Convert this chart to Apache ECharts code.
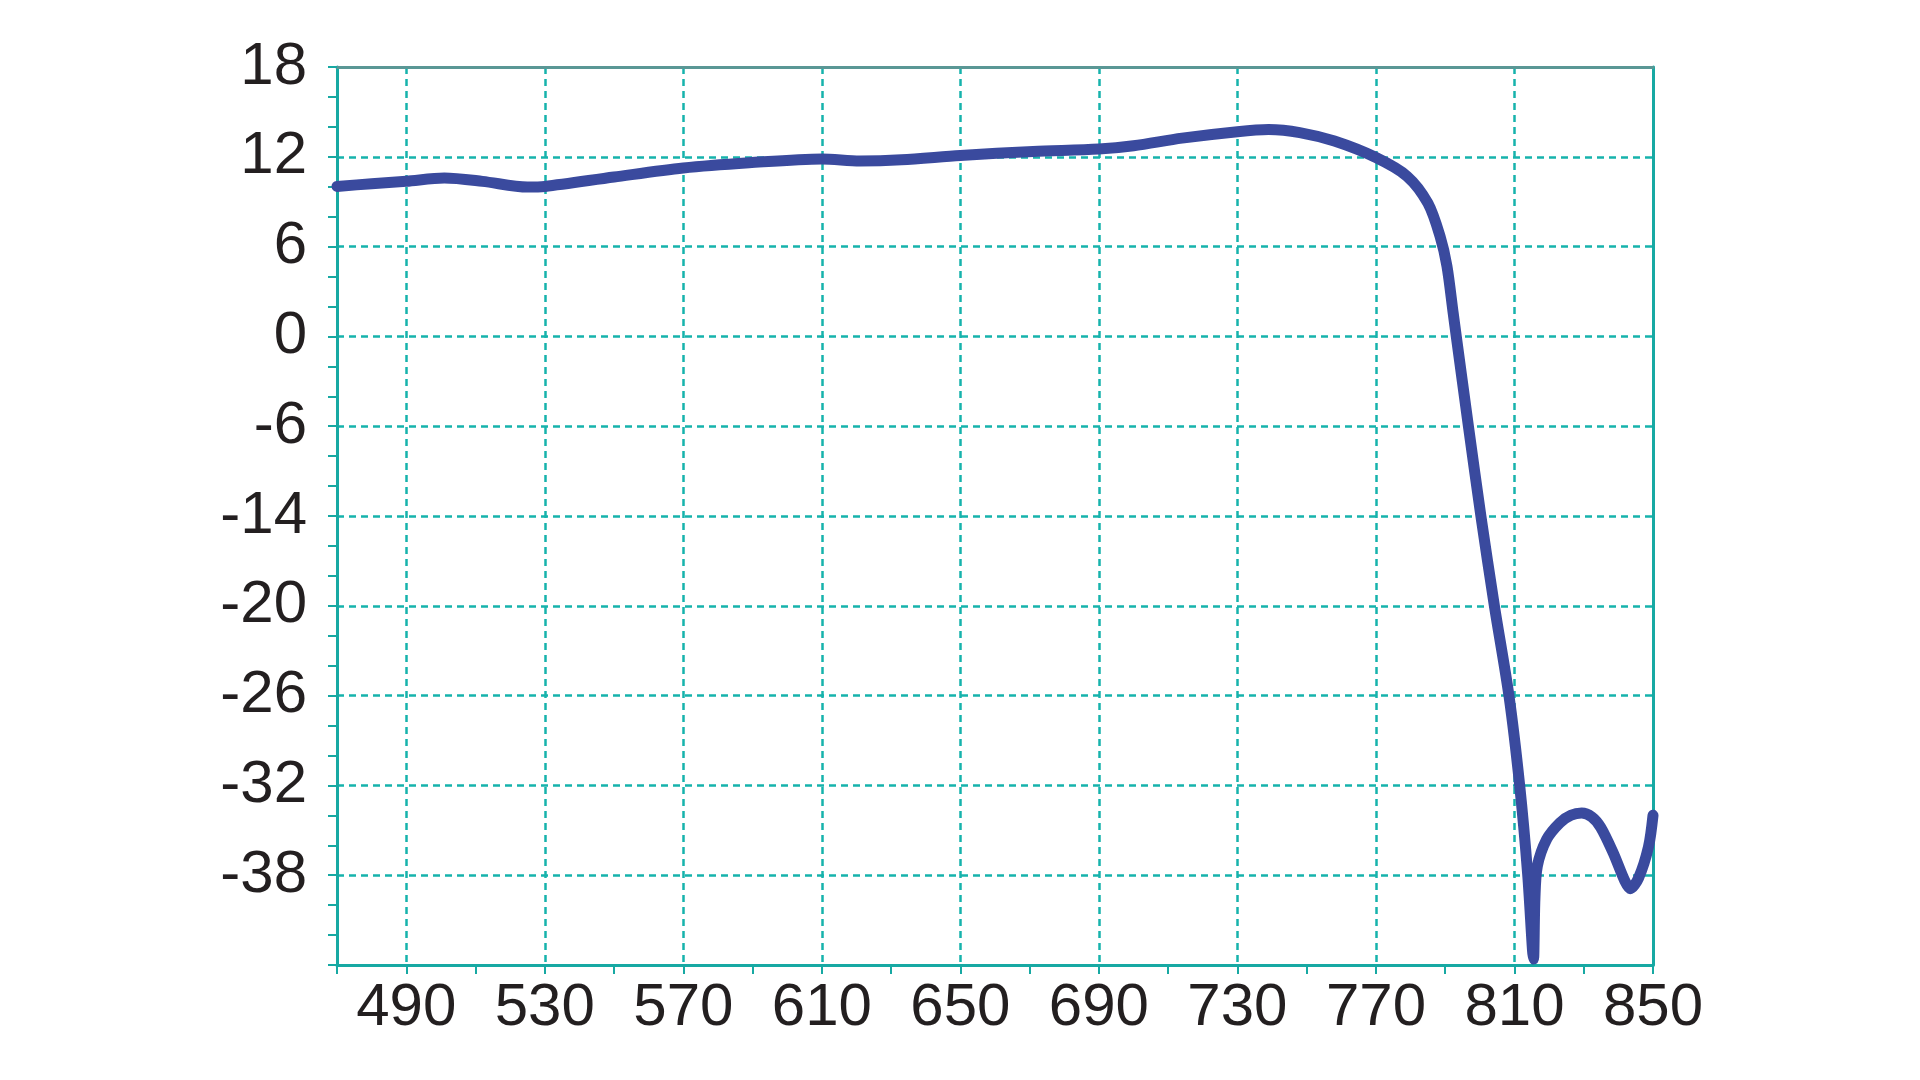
<!DOCTYPE html>
<html>
<head>
<meta charset="utf-8">
<script src="https://cdn.jsdelivr.net/npm/echarts@6/dist/echarts.min.js"></script>
<style>
html,body{margin:0;padding:0;background:#fff;}
#chart{width:1920px;height:1080px;}
</style>
</head>
<body>
<div id="chart"></div>
<script>
// Wavelength (x) values
const xValues = [470, 480, 490, 501, 512, 525, 530, 550, 570, 589, 610, 621, 633, 650, 671, 690, 700, 714, 730, 739, 748, 758, 770, 779, 785, 788.5, 790.5, 792.3, 793.2, 796.7, 800.3, 804.2, 808.4, 811.5, 813.8, 815.2, 815.5, 815.9, 816.6, 819.3, 823.1, 826.3, 829.4, 832.3, 834.9, 838.5, 841.9, 843.4, 845.8, 848.7, 850];
// Curve values, in uniform axis units (each grid step = 6 units)
const yValues = [10.02, 10.2, 10.36, 10.58, 10.36, 9.98, 10.02, 10.65, 11.25, 11.6, 11.86, 11.72, 11.8, 12.09, 12.36, 12.52, 12.74, 13.25, 13.68, 13.82, 13.62, 13.05, 11.95, 10.7, 8.9, 6.7, 4.7, 1.56, 0, -6, -12, -18, -24, -30, -35.9, -41, -41.6, -37.6, -35.4, -33.6, -32.5, -32.0, -31.85, -32.1, -32.8, -34.5, -36.4, -36.9, -36.2, -34.1, -32];
// Y tick labels, top to bottom
const yTickLabels = ['18', '12', '6', '0', '-6', '-14', '-20', '-26', '-32', '-38', ''];
// X tick labels shown
const xTickLabels = [490, 530, 570, 610, 650, 690, 730, 770, 810, 850];

const seriesData = xValues.map((x, i) => [x, yValues[i]]);
const teal = '#16b3ac';
const axisTeal = '#17a9a3';
const font = 'Liberation Sans, Arial, sans-serif';

const chart = echarts.init(document.getElementById('chart'), null, {renderer: 'canvas'});
chart.setOption({
  animation: false,
  backgroundColor: '#ffffff',
  grid: {left: 337, right: 267, top: 67, bottom: 115, containLabel: false},
  xAxis: [{
    type: 'value', min: 470, max: 850, interval: 20,
    axisLine: {show: true, onZero: false, lineStyle: {color: axisTeal, width: 3}},
    axisTick: {show: true, length: 9, lineStyle: {color: axisTeal, width: 2}},
    axisLabel: {
      margin: 13, fontSize: 60, color: '#231f20', fontFamily: font, hideOverlap: false,
      formatter: v => xTickLabels.indexOf(v) >= 0 ? String(v) : ''
    },
    splitLine: {show: true, lineStyle: {color: ['rgba(0,0,0,0)', teal], width: 2.5, type: [7, 5]}}
  }, {
    type: 'value', min: 470, max: 850, position: 'top',
    axisLine: {show: true, onZero: false, lineStyle: {color: '#5a9795', width: 3}},
    axisTick: {show: false}, axisLabel: {show: false}, splitLine: {show: false}
  }],
  yAxis: [{
    type: 'value', min: -42, max: 18, interval: 6,
    axisLine: {show: true, onZero: false, lineStyle: {color: axisTeal, width: 3}},
    axisTick: {show: true, length: 9, lineStyle: {color: axisTeal, width: 2}},
    minorTick: {show: true, splitNumber: 3, length: 9, lineStyle: {color: axisTeal, width: 2}},
    axisLabel: {
      margin: 30, fontSize: 60, color: '#231f20', fontFamily: font,
      formatter: v => { const i = Math.round((18 - v) / 6); return yTickLabels[i] || ''; }
    },
    splitLine: {show: true, lineStyle: {color: teal, width: 2.5, type: [7, 5]}}
  }, {
    type: 'value', min: -42, max: 18, position: 'right',
    axisLine: {show: true, onZero: false, lineStyle: {color: axisTeal, width: 3}},
    axisTick: {show: false}, axisLabel: {show: false}, splitLine: {show: false}
  }],
  series: [{
    type: 'line', xAxisIndex: 0, yAxisIndex: 0,
    data: seriesData, smooth: 0.3, symbol: 'none',
    lineStyle: {color: '#3a4a9e', width: 11, cap: 'round', join: 'round'}
  }]
});
</script>
</body>
</html>
